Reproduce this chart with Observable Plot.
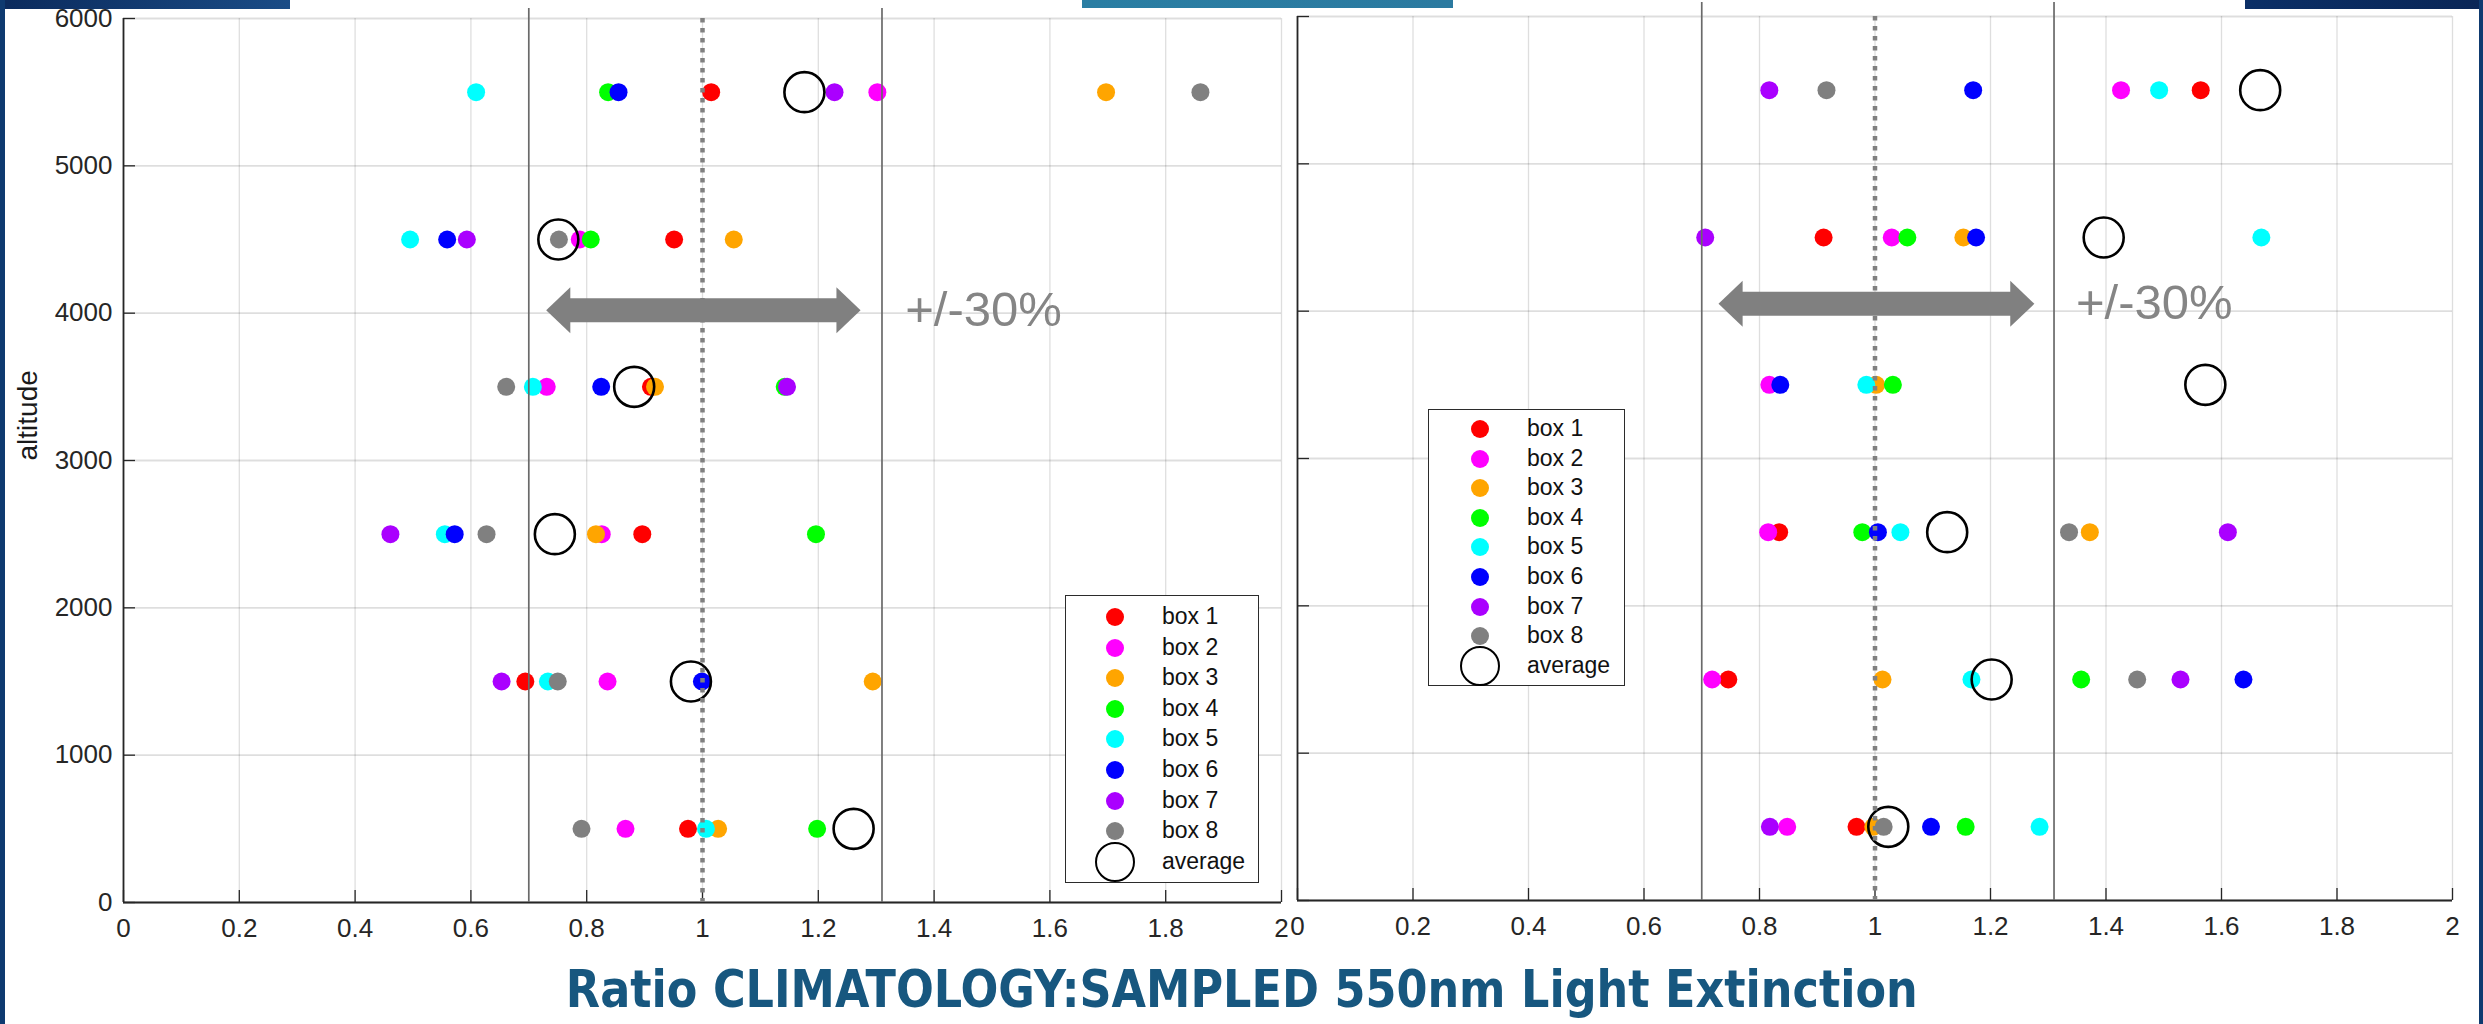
<!DOCTYPE html>
<html>
<head>
<meta charset="utf-8">
<script src="https://cdn.jsdelivr.net/npm/d3@7"></script>
<script src="https://cdn.jsdelivr.net/npm/@observablehq/plot@0.6"></script>
<style>
  html, body { margin: 0; padding: 0; background: #fff; }
  #page { position: relative; width: 2483px; height: 1024px; overflow: hidden; background: #fff;
          font-family: "Liberation Sans", Arial, Helvetica, sans-serif; }
  .deco { position: absolute; }
  .panel { position: absolute; top: 0; }
  .legend { position: absolute; background: #fff; border: 1.5px solid #2b2b2b; box-sizing: border-box; }
  .legend .mk { position: absolute; border-radius: 50%; box-sizing: border-box; transform: translate(-50%, -50%); }
  .legend .lb { position: absolute; font-size: 23px; color: #111; line-height: 1; transform: translateY(-52%); white-space: nowrap; }
  #title { position: absolute; left: 0; width: 2483px; top: 963px; text-align: center; }
  #title span { display: inline-block; font-family: "Liberation Sans Narrow", "DejaVu Sans Condensed", "Liberation Sans", Arial, sans-serif;
                font-weight: 700; font-size: 52px; color: #17577f; line-height: 1; transform-origin: 50% 50%; white-space: nowrap; }
</style>
</head>
<body>
<div id="page"></div>
<script>
// ---------------- data ----------------
const altitudes = [500, 1500, 2500, 3500, 4500, 5500];
const boxNames = ["box 1", "box 2", "box 3", "box 4", "box 5", "box 6", "box 7", "box 8"];
const boxColors = ["#ff0000", "#ff00ff", "#ffa500", "#00ff00", "#00ffff", "#0000ff", "#aa00ff", "#808080"];
const xTicks = [0, 0.2, 0.4, 0.6, 0.8, 1, 1.2, 1.4, 1.6, 1.8, 2];
const yTicks = [0, 1000, 2000, 3000, 4000, 5000, 6000];
const bandLines = [0.7, 1.31];
const centerLine = [1];
const percentLabel = "+/-30%";
const averageLabel = "average";

// left panel: ratio per box at each altitude (500 .. 5500); null = not visible
const leftBox1 = [0.975, 0.694, 0.896, 0.911, 0.951, 1.015];
const leftBox2 = [0.867, 0.836, 0.826, 0.731, 0.788, 1.302];
const leftBox3 = [1.027, 1.294, 0.816, 0.918, 1.054, 1.697];
const leftBox4 = [1.198, null, 1.196, 1.142, 0.807, 0.837];
const leftBox5 = [1.006, 0.733, 0.555, 0.707, 0.495, 0.609];
const leftBox6 = [null, 0.999, 0.572, 0.825, 0.559, 0.855];
const leftBox7 = [null, 0.653, 0.461, 1.146, 0.593, 1.228];
const leftBox8 = [0.791, 0.750, 0.627, 0.661, 0.752, 1.860];
const leftAverage = [1.261, 0.980, 0.745, 0.882, 0.751, 1.176];
const leftArrow = [{x1: 0.73, x2: 1.273, y: 4020, labelX: 1.35}];

// right panel
const rightBox1 = [0.968, 0.746, 0.834, null, 0.911, 1.564];
const rightBox2 = [0.848, 0.718, 0.815, 0.817, 1.029, 1.426];
const rightBox3 = [0.997, 1.013, 1.372, 1.002, 1.153, null];
const rightBox4 = [1.157, 1.357, 0.978, 1.031, 1.056, null];
const rightBox5 = [1.285, 1.167, 1.044, 0.985, 1.669, 1.492];
const rightBox6 = [1.097, 1.638, 1.005, 0.836, 1.175, 1.170];
const rightBox7 = [0.818, 1.529, 1.611, null, 0.706, 0.817];
const rightBox8 = [1.015, 1.454, 1.336, null, null, 0.916];
const rightAverage = [1.023, 1.202, 1.125, 1.572, 1.396, 1.667];
const rightArrow = [{x1: 0.729, x2: 1.276, y: 4050, labelX: 1.348}];

// ---------------- helpers ----------------
const page = document.getElementById("page");
const tickColor = "#262626";
const fmtX = d => String(+(+d).toFixed(1));

// filled arrowhead pointing right, tip at the anchor point
const arrowHead = {
  draw(ctx, size) {
    const r = Math.sqrt(size / Math.PI);
    ctx.moveTo(0, 0);
    ctx.lineTo(-1.05 * r, -r);
    ctx.lineTo(-1.05 * r, r);
    ctx.closePath();
  }
};

function buildRows(series) {
  const rows = [];
  series.forEach((vals, b) => {
    vals.forEach((v, i) => { if (v != null) rows.push({box: boxNames[b], x: v, y: altitudes[i]}); });
  });
  return rows;
}

function panel(cfg) {
  const rows = buildRows(cfg.series);
  const avgRows = cfg.average.map((v, i) => ({x: v, y: altitudes[i]}));
  const marks = [
    Plot.gridX(xTicks, {stroke: "#000", strokeOpacity: 0.13, strokeWidth: 1.3}),
    Plot.gridY(yTicks, {stroke: "#000", strokeOpacity: 0.13, strokeWidth: 1.8}),
    Plot.axisX(xTicks, {tickSize: 0, tickPadding: 16, tickFormat: fmtX, fontSize: 26, fill: tickColor, label: null}),
    Plot.axisX(xTicks, {tickSize: -12, tickFormat: () => "", stroke: tickColor, strokeWidth: 1.3, label: null}),
    Plot.axisY(yTicks, {tickSize: -12, tickFormat: () => "", stroke: tickColor, strokeWidth: 1.3, label: null}),
    Plot.ruleY([0], {stroke: tickColor, strokeWidth: 2}),
    Plot.ruleX([0], {stroke: tickColor, strokeWidth: 1.8}),
    Plot.dot(rows, {x: "x", y: "y", fill: "box", r: 9}),
    Plot.dot(avgRows, {x: "x", y: "y", r: 20, stroke: "#000", strokeWidth: 2.6, fill: "none"}),
    Plot.ruleX(bandLines, {stroke: "#6a6a6a", strokeWidth: 1.7, insetTop: -cfg.lineOverTop}),
    Plot.ruleX(centerLine, {stroke: "#808080", strokeWidth: 4.5, strokeDasharray: "4.5,5.5"}),
    Plot.ruleY(cfg.arrow, {y: "y", x1: "x1", x2: "x2", stroke: "#808080", strokeWidth: 24, insetLeft: 20, insetRight: 20}),
    Plot.dot(cfg.arrow, {x: "x2", y: "y", symbol: arrowHead, r: 23, fill: "#808080", stroke: null}),
    Plot.dot(cfg.arrow, {x: "x1", y: "y", symbol: arrowHead, r: 23, fill: "#808080", stroke: null, rotate: 180}),
    Plot.text(cfg.arrow, {x: "labelX", y: "y", text: () => percentLabel, textAnchor: "start", fontSize: 49, fill: "#858585"})
  ];
  if (cfg.yLabels) {
    marks.splice(3, 0,
      Plot.axisY(yTicks, {tickSize: 0, tickPadding: 11, tickFormat: d => String(d), fontSize: 26, fill: tickColor, label: null}),
      Plot.text(["altitude"], {frameAnchor: "left", rotate: -90, dx: -95, fontSize: 28, fill: "#1a1a1a", text: d => d})
    );
  }
  const svg = Plot.plot({
    width: cfg.width, height: cfg.height,
    marginLeft: cfg.marginLeft, marginRight: cfg.marginRight, marginTop: cfg.marginTop, marginBottom: cfg.marginBottom,
    x: {domain: [0, 2]},
    y: {domain: [0, 6000]},
    color: {domain: boxNames, range: boxColors},
    style: {fontFamily: "'Liberation Sans', Arial, Helvetica, sans-serif", fontSize: "26px", color: tickColor, background: "transparent", overflow: "visible"},
    marks
  });
  svg.classList.add("panel");
  svg.style.left = cfg.left + "px";
  page.appendChild(svg);
}

function legend(cfg) {
  const div = document.createElement("div");
  div.className = "legend";
  Object.assign(div.style, {left: cfg.left + "px", top: cfg.top + "px", width: cfg.width + "px", height: cfg.height + "px"});
  const items = boxNames.map((n, i) => ({label: n, color: boxColors[i]})).concat([{label: averageLabel, color: null}]);
  items.forEach((it, i) => {
    const cy = cfg.firstRow + i * cfg.pitch;
    const mk = document.createElement("span");
    mk.className = "mk";
    if (it.color) {
      Object.assign(mk.style, {left: cfg.dotX + "px", top: cy + "px", width: "18px", height: "18px", background: it.color});
    } else {
      Object.assign(mk.style, {left: cfg.dotX + "px", top: cy + "px", width: "40px", height: "40px", border: "2.6px solid #000"});
    }
    div.appendChild(mk);
    const lb = document.createElement("span");
    lb.className = "lb";
    lb.textContent = it.label;
    Object.assign(lb.style, {left: cfg.textX + "px", top: cy + "px"});
    div.appendChild(lb);
  });
  page.appendChild(div);
}

function deco(left, top, width, height, bg) {
  const d = document.createElement("div");
  d.className = "deco";
  Object.assign(d.style, {left: left + "px", top: top + "px", width: width + "px", height: height + "px", background: bg});
  page.appendChild(d);
}

// ---------------- build ----------------
panel({
  series: [leftBox1, leftBox2, leftBox3, leftBox4, leftBox5, leftBox6, leftBox7, leftBox8],
  average: leftAverage, arrow: leftArrow, yLabels: true,
  left: 0, width: 1290, height: 960, marginLeft: 123, marginRight: 9, marginTop: 18, marginBottom: 58, lineOverTop: 10
});
panel({
  series: [rightBox1, rightBox2, rightBox3, rightBox4, rightBox5, rightBox6, rightBox7, rightBox8],
  average: rightAverage, arrow: rightArrow, yLabels: false,
  left: 1290, width: 1193, height: 960, marginLeft: 7, marginRight: 31, marginTop: 16, marginBottom: 60, lineOverTop: 14
});

legend({left: 1065, top: 595, width: 194, height: 288, firstRow: 21, pitch: 30.6, dotX: 49, textX: 96});
legend({left: 1428, top: 409, width: 197, height: 277, firstRow: 19, pitch: 29.6, dotX: 51, textX: 98});

// slide decorations
deco(0, 0, 290, 9, "linear-gradient(90deg, #0b2a5c, #1a4c86)");
deco(1082, 0, 371, 8, "linear-gradient(90deg, #2a7ea3, #2b7aa0)");
deco(2245, 0, 238, 9, "linear-gradient(90deg, #0b2f66, #0a2656)");
deco(0, 0, 5, 1024, "#0e3a70");
deco(2479, 0, 4, 1024, "#0e3a70");

// title
const t = document.createElement("div");
t.id = "title";
const ts = document.createElement("span");
ts.textContent = "Ratio CLIMATOLOGY:SAMPLED 550nm Light Extinction";
t.appendChild(ts);
page.appendChild(t);
const w = ts.getBoundingClientRect().width;
ts.style.transform = `scaleX(${1352 / w})`;
</script>
</body>
</html>
